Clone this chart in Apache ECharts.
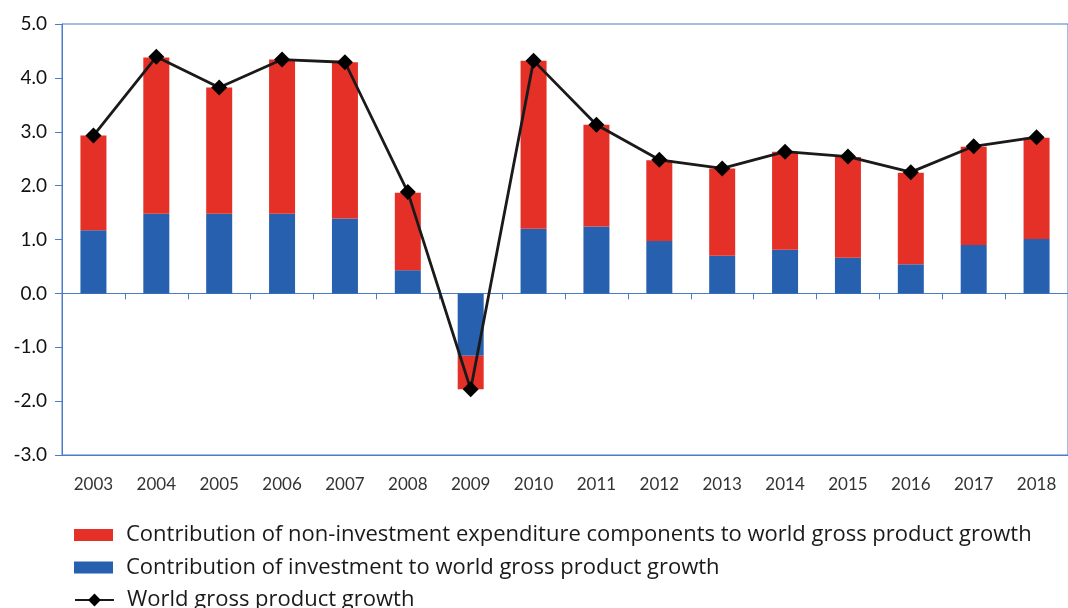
<!DOCTYPE html>
<html><head><meta charset="utf-8">
<script src="https://cdn.jsdelivr.net/npm/echarts@6/dist/echarts.min.js"></script>
<style>html,body{margin:0;padding:0;background:#fff}#c{width:1068px;height:608px}</style>
</head><body><div id="c"></div>
<script>
const years = ['2003','2004','2005','2006','2007','2008','2009','2010','2011','2012','2013','2014','2015','2016','2017','2018'];
const investment = [1.17,1.48,1.48,1.48,1.39,0.43,-1.16,1.20,1.24,0.97,0.70,0.81,0.66,0.54,0.90,1.01];
const nonInvestment = [1.76,2.90,2.34,2.86,2.90,1.44,-0.62,3.12,1.89,1.50,1.62,1.82,1.87,1.70,1.82,1.88];
const growth = [2.93,4.39,3.82,4.34,4.29,1.88,-1.78,4.32,3.13,2.48,2.32,2.63,2.54,2.25,2.73,2.90];
const names = ['Contribution of non-investment expenditure components to world gross product growth','Contribution of investment to world gross product growth','World gross product growth'];
const FONT = 'Lato';
const LFONT = 'Open Sans';
const axisBlue = '#4a7cc9';
const chart = echarts.init(document.getElementById('c'));
const legendRow = (name, top, h, icon) => {
  const o = {
    orient:'horizontal',left:74,top:top,padding:0,itemWidth:39,itemHeight:h,
    data:[name],
    textStyle:{fontFamily:LFONT,fontSize:22,color:'#1a1a1a',lineHeight:24,padding:[0,0,0,8]}
  };
  if (icon) o.icon = icon;
  return o;
};
chart.setOption({
  animation:false,
  textStyle:{fontFamily:FONT},
  grid:{left:62,right:-6,top:24,bottom:153,show:true,borderColor:axisBlue,borderWidth:1,containLabel:false},
  legend:[legendRow(names[0],523,12,'rect'),legendRow(names[1],555.5,12,'rect'),legendRow(names[2],588,16)],
  xAxis:[
    {type:'category',data:years,position:'bottom',axisLine:{onZero:false,lineStyle:{color:axisBlue}},axisTick:{show:false},
     axisLabel:{fontSize:17,color:'#333',margin:21,fontFamily:FONT}},
    {type:'category',data:years,position:'bottom',axisLine:{onZero:true,lineStyle:{color:axisBlue}},
     axisTick:{show:true,length:6,inside:false,lineStyle:{color:axisBlue}},axisLabel:{show:false}}
  ],
  yAxis:{type:'value',min:-3,max:5,interval:1,
    axisLine:{show:true,lineStyle:{color:axisBlue}},axisTick:{show:true,length:7,lineStyle:{color:axisBlue}},
    splitLine:{show:false},
    axisLabel:{fontSize:19,color:'#111',margin:15,fontFamily:FONT,formatter:v=>v.toFixed(1)}},
  series:[
    {name:names[1],type:'bar',stack:'g',data:investment,barWidth:26,itemStyle:{color:'#2660ae'}},
    {name:names[0],type:'bar',stack:'g',data:nonInvestment,barWidth:26,itemStyle:{color:'#e53027'}},
    {name:names[2],type:'line',data:growth,symbol:'diamond',symbolSize:16,
     lineStyle:{color:'#1a1a1a',width:2.8},itemStyle:{color:'#000'}}
  ]
});
</script></body></html>
